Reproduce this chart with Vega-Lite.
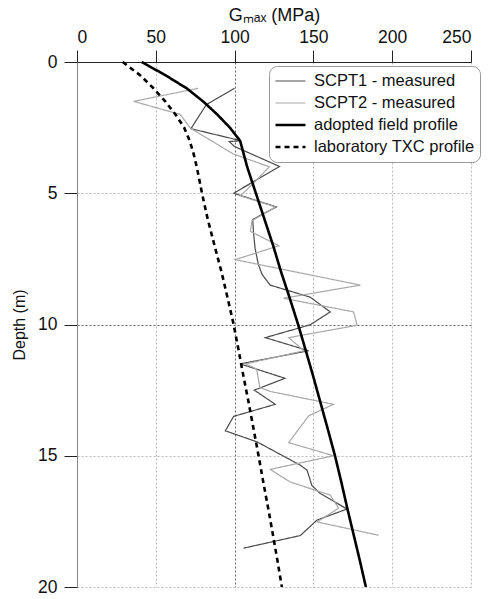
{
  "$schema": "https://vega.github.io/schema/vega-lite/v6.json",
  "width": 394,
  "height": 525,
  "autosize": {"type": "none"},
  "padding": {"left": 77, "top": 62, "right": 29, "bottom": 12},
  "background": "white",
  "config": {
    "font": "Liberation Sans",
    "view": {"stroke": null},
    "axis": {
      "labelFont": "Liberation Sans",
      "titleFont": "Liberation Sans",
      "labelColor": "#111",
      "titleColor": "#111",
      "titleFontWeight": "normal",
      "labelFontSize": 17.5,
      "titleFontSize": 18,
      "grid": true,
      "gridDash": [2, 2],
      "gridWidth": 1
    },
    "legend": {
      "orient": "none",
      "legendX": 192,
      "legendY": 4,
      "fillColor": "white",
      "strokeColor": "#999",
      "cornerRadius": 8,
      "padding": 5,
      "labelFontSize": 16.5,
      "labelFont": "Liberation Sans",
      "labelColor": "#111",
      "labelLimit": 400,
      "symbolType": "stroke",
      "symbolSize": 900,
      "labelOffset": 7,
      "clipHeight": 20,
      "rowPadding": 2,
      "title": null
    }
  },
  "data": {
    "values": [
      {"series": "SCPT1 - measured", "i": 1, "G": 100, "depth": 1.0},
      {"series": "SCPT1 - measured", "i": 2, "G": 82, "depth": 1.63},
      {"series": "SCPT1 - measured", "i": 3, "G": 72.3, "depth": 2.54},
      {"series": "SCPT1 - measured", "i": 4, "G": 104, "depth": 3.0},
      {"series": "SCPT1 - measured", "i": 5, "G": 96.5, "depth": 3.03},
      {"series": "SCPT1 - measured", "i": 6, "G": 100, "depth": 3.22},
      {"series": "SCPT1 - measured", "i": 7, "G": 128.5, "depth": 3.98},
      {"series": "SCPT1 - measured", "i": 8, "G": 99.4, "depth": 5.0},
      {"series": "SCPT1 - measured", "i": 9, "G": 126.5, "depth": 5.52},
      {"series": "SCPT1 - measured", "i": 10, "G": 111.5, "depth": 6.0},
      {"series": "SCPT1 - measured", "i": 11, "G": 112, "depth": 6.5},
      {"series": "SCPT1 - measured", "i": 12, "G": 113, "depth": 7.1},
      {"series": "SCPT1 - measured", "i": 13, "G": 115, "depth": 7.7},
      {"series": "SCPT1 - measured", "i": 14, "G": 117.5, "depth": 8.1},
      {"series": "SCPT1 - measured", "i": 15, "G": 122.6, "depth": 8.5},
      {"series": "SCPT1 - measured", "i": 16, "G": 148, "depth": 8.96},
      {"series": "SCPT1 - measured", "i": 17, "G": 160.7, "depth": 9.52},
      {"series": "SCPT1 - measured", "i": 18, "G": 148, "depth": 10.01},
      {"series": "SCPT1 - measured", "i": 19, "G": 119.5, "depth": 10.5},
      {"series": "SCPT1 - measured", "i": 20, "G": 147, "depth": 11.0},
      {"series": "SCPT1 - measured", "i": 21, "G": 103.6, "depth": 11.5},
      {"series": "SCPT1 - measured", "i": 22, "G": 132, "depth": 12.05},
      {"series": "SCPT1 - measured", "i": 23, "G": 112.5, "depth": 12.5},
      {"series": "SCPT1 - measured", "i": 24, "G": 125.8, "depth": 13.04},
      {"series": "SCPT1 - measured", "i": 25, "G": 99.4, "depth": 13.5},
      {"series": "SCPT1 - measured", "i": 26, "G": 94.1, "depth": 14.05},
      {"series": "SCPT1 - measured", "i": 27, "G": 114.2, "depth": 14.47},
      {"series": "SCPT1 - measured", "i": 28, "G": 141.7, "depth": 15.36},
      {"series": "SCPT1 - measured", "i": 29, "G": 146, "depth": 15.55},
      {"series": "SCPT1 - measured", "i": 30, "G": 149, "depth": 16.13},
      {"series": "SCPT1 - measured", "i": 31, "G": 154.4, "depth": 16.44},
      {"series": "SCPT1 - measured", "i": 32, "G": 171.3, "depth": 17.03},
      {"series": "SCPT1 - measured", "i": 33, "G": 152.3, "depth": 17.45},
      {"series": "SCPT1 - measured", "i": 34, "G": 141.7, "depth": 18.04},
      {"series": "SCPT1 - measured", "i": 35, "G": 105.7, "depth": 18.52},

      {"series": "SCPT2 - measured", "i": 1, "G": 77, "depth": 1.0},
      {"series": "SCPT2 - measured", "i": 2, "G": 36, "depth": 1.5},
      {"series": "SCPT2 - measured", "i": 3, "G": 65.5, "depth": 2.0},
      {"series": "SCPT2 - measured", "i": 4, "G": 72, "depth": 2.52},
      {"series": "SCPT2 - measured", "i": 5, "G": 99, "depth": 3.5},
      {"series": "SCPT2 - measured", "i": 6, "G": 122, "depth": 3.99},
      {"series": "SCPT2 - measured", "i": 7, "G": 112, "depth": 4.62},
      {"series": "SCPT2 - measured", "i": 8, "G": 103.6, "depth": 5.1},
      {"series": "SCPT2 - measured", "i": 9, "G": 126, "depth": 5.52},
      {"series": "SCPT2 - measured", "i": 10, "G": 111, "depth": 6.05},
      {"series": "SCPT2 - measured", "i": 11, "G": 110, "depth": 6.45},
      {"series": "SCPT2 - measured", "i": 12, "G": 128, "depth": 7.0},
      {"series": "SCPT2 - measured", "i": 13, "G": 100.4, "depth": 7.53},
      {"series": "SCPT2 - measured", "i": 14, "G": 179.8, "depth": 8.5},
      {"series": "SCPT2 - measured", "i": 15, "G": 131, "depth": 9.0},
      {"series": "SCPT2 - measured", "i": 16, "G": 175.5, "depth": 9.52},
      {"series": "SCPT2 - measured", "i": 17, "G": 177.7, "depth": 10.03},
      {"series": "SCPT2 - measured", "i": 18, "G": 134.3, "depth": 10.5},
      {"series": "SCPT2 - measured", "i": 19, "G": 144, "depth": 11.0},
      {"series": "SCPT2 - measured", "i": 20, "G": 107, "depth": 11.5},
      {"series": "SCPT2 - measured", "i": 21, "G": 114, "depth": 11.7},
      {"series": "SCPT2 - measured", "i": 22, "G": 116, "depth": 12.4},
      {"series": "SCPT2 - measured", "i": 23, "G": 122.6, "depth": 12.55},
      {"series": "SCPT2 - measured", "i": 24, "G": 162.8, "depth": 13.04},
      {"series": "SCPT2 - measured", "i": 25, "G": 147, "depth": 13.48},
      {"series": "SCPT2 - measured", "i": 26, "G": 134.3, "depth": 14.5},
      {"series": "SCPT2 - measured", "i": 27, "G": 162.8, "depth": 15.0},
      {"series": "SCPT2 - measured", "i": 28, "G": 122.6, "depth": 15.52},
      {"series": "SCPT2 - measured", "i": 29, "G": 135.3, "depth": 16.0},
      {"series": "SCPT2 - measured", "i": 30, "G": 160.7, "depth": 16.5},
      {"series": "SCPT2 - measured", "i": 31, "G": 166, "depth": 17.0},
      {"series": "SCPT2 - measured", "i": 32, "G": 152.3, "depth": 17.52},
      {"series": "SCPT2 - measured", "i": 33, "G": 191.4, "depth": 18.03},

      {"series": "adopted field profile", "i": 1, "G": 41, "depth": 0},
      {"series": "adopted field profile", "i": 2, "G": 56, "depth": 0.5},
      {"series": "adopted field profile", "i": 3, "G": 69.5, "depth": 1.0},
      {"series": "adopted field profile", "i": 4, "G": 80, "depth": 1.5},
      {"series": "adopted field profile", "i": 5, "G": 89, "depth": 2.0},
      {"series": "adopted field profile", "i": 6, "G": 97, "depth": 2.5},
      {"series": "adopted field profile", "i": 7, "G": 103.5, "depth": 3.0},
      {"series": "adopted field profile", "i": 8, "G": 108, "depth": 4.0},
      {"series": "adopted field profile", "i": 9, "G": 113.5, "depth": 5.0},
      {"series": "adopted field profile", "i": 10, "G": 119, "depth": 6.0},
      {"series": "adopted field profile", "i": 11, "G": 124.5, "depth": 7.0},
      {"series": "adopted field profile", "i": 12, "G": 129.5, "depth": 8.0},
      {"series": "adopted field profile", "i": 13, "G": 135, "depth": 9.0},
      {"series": "adopted field profile", "i": 14, "G": 140.3, "depth": 10.0},
      {"series": "adopted field profile", "i": 15, "G": 145.2, "depth": 11.0},
      {"series": "adopted field profile", "i": 16, "G": 150, "depth": 12.0},
      {"series": "adopted field profile", "i": 17, "G": 154.6, "depth": 13.0},
      {"series": "adopted field profile", "i": 18, "G": 159.2, "depth": 14.0},
      {"series": "adopted field profile", "i": 19, "G": 163.7, "depth": 15.0},
      {"series": "adopted field profile", "i": 20, "G": 167.7, "depth": 16.0},
      {"series": "adopted field profile", "i": 21, "G": 171.5, "depth": 17.0},
      {"series": "adopted field profile", "i": 22, "G": 175.5, "depth": 18.0},
      {"series": "adopted field profile", "i": 23, "G": 179.5, "depth": 19.0},
      {"series": "adopted field profile", "i": 24, "G": 183.3, "depth": 20.0},

      {"series": "laboratory TXC profile", "i": 1, "G": 29, "depth": 0},
      {"series": "laboratory TXC profile", "i": 2, "G": 40, "depth": 0.5},
      {"series": "laboratory TXC profile", "i": 3, "G": 48.5, "depth": 1.0},
      {"series": "laboratory TXC profile", "i": 4, "G": 56, "depth": 1.5},
      {"series": "laboratory TXC profile", "i": 5, "G": 62.5, "depth": 2.0},
      {"series": "laboratory TXC profile", "i": 6, "G": 68, "depth": 2.5},
      {"series": "laboratory TXC profile", "i": 7, "G": 71.5, "depth": 3.0},
      {"series": "laboratory TXC profile", "i": 8, "G": 74, "depth": 3.5},
      {"series": "laboratory TXC profile", "i": 9, "G": 76, "depth": 4.0},
      {"series": "laboratory TXC profile", "i": 10, "G": 79.3, "depth": 5.0},
      {"series": "laboratory TXC profile", "i": 11, "G": 83, "depth": 6.0},
      {"series": "laboratory TXC profile", "i": 12, "G": 87.3, "depth": 7.0},
      {"series": "laboratory TXC profile", "i": 13, "G": 91.7, "depth": 8.0},
      {"series": "laboratory TXC profile", "i": 14, "G": 95.6, "depth": 9.0},
      {"series": "laboratory TXC profile", "i": 15, "G": 99.4, "depth": 10.0},
      {"series": "laboratory TXC profile", "i": 16, "G": 102.6, "depth": 11.0},
      {"series": "laboratory TXC profile", "i": 17, "G": 105.7, "depth": 12.0},
      {"series": "laboratory TXC profile", "i": 18, "G": 109, "depth": 13.0},
      {"series": "laboratory TXC profile", "i": 19, "G": 112.1, "depth": 14.0},
      {"series": "laboratory TXC profile", "i": 20, "G": 115.2, "depth": 15.0},
      {"series": "laboratory TXC profile", "i": 21, "G": 118.2, "depth": 16.0},
      {"series": "laboratory TXC profile", "i": 22, "G": 121.3, "depth": 17.0},
      {"series": "laboratory TXC profile", "i": 23, "G": 124.3, "depth": 18.0},
      {"series": "laboratory TXC profile", "i": 24, "G": 127.2, "depth": 19.0},
      {"series": "laboratory TXC profile", "i": 25, "G": 130, "depth": 20.0}
    ]
  },
  "encoding": {
    "x": {
      "field": "G",
      "type": "quantitative",
      "scale": {"domain": [0, 250], "nice": false, "zero": false},
      "axis": {
        "orient": "top",
        "title": "Gₘₐₓ (MPa)",
        "values": [0, 50, 100, 150, 200, 250],
        "domainColor": "#222",
        "tickColor": "#222",
        "tickSize": 12,
        "labelPadding": 4,
        "titlePadding": 4,
        "gridColor": {"condition": {"test": "datum.value === 100", "value": "#666"}, "value": "#bbb"}
      }
    },
    "y": {
      "field": "depth",
      "type": "quantitative",
      "scale": {"domain": [0, 20], "reverse": true, "nice": false, "zero": false},
      "axis": {
        "title": "Depth (m)",
        "values": [0, 5, 10, 15, 20],
        "domainColor": "#888",
        "tickColor": "#222",
        "tickSize": 13,
        "labelPadding": 7,
        "titlePadding": 10,
        "titleFontSize": 16,
        "gridColor": {"condition": {"test": "datum.value === 10", "value": "#666"}, "value": "#bbb"}
      }
    },
    "color": {
      "field": "series",
      "type": "ordinal",
      "scale": {
        "domain": ["SCPT1 - measured", "SCPT2 - measured", "adopted field profile", "laboratory TXC profile"],
        "range": ["#4a4a4a", "#a8a8a8", "#000000", "#000000"]
      }
    },
    "strokeDash": {
      "field": "series",
      "type": "ordinal",
      "scale": {
        "domain": ["SCPT1 - measured", "SCPT2 - measured", "adopted field profile", "laboratory TXC profile"],
        "range": [[1, 0], [1, 0], [1, 0], [5, 4]]
      }
    },
    "strokeWidth": {
      "field": "series",
      "type": "ordinal",
      "scale": {
        "type": "ordinal",
        "domain": ["SCPT1 - measured", "SCPT2 - measured", "adopted field profile", "laboratory TXC profile"],
        "range": [1.2, 1.2, 2.6, 2.6]
      }
    },
    "order": {"field": "i", "type": "quantitative"}
  },
  "layer": [
    {
      "transform": [{"filter": "datum.series === 'SCPT1 - measured' || datum.series === 'SCPT2 - measured'"}],
      "mark": {"type": "line", "strokeJoin": "miter"}
    },
    {
      "transform": [{"filter": "datum.series === 'adopted field profile' || datum.series === 'laboratory TXC profile'"}],
      "mark": {"type": "line"}
    }
  ]
}
